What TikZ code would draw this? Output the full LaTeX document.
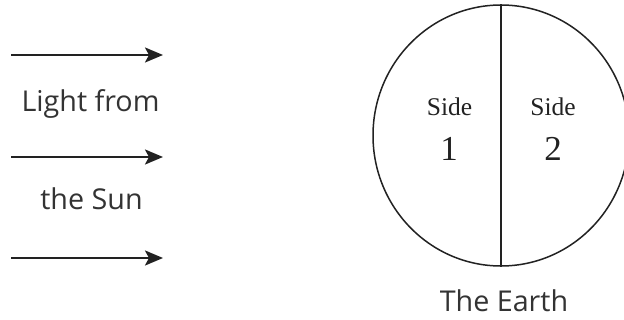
\documentclass[tikz,border=0pt]{standalone}
\usepackage{fontspec}
\setmainfont{Open Sans}
\newfontfamily\serifface{Liberation Serif}
\usetikzlibrary{arrows.meta,shapes.geometric}
\definecolor{ink}{HTML}{222222}
\definecolor{txt}{HTML}{333333}
\tikzset{
  x=1pt,y=1pt,
  sunray/.style={line width=2.5pt,draw=ink,-{Stealth[length=18pt,width=15pt,inset=4pt]}},
  label/.style={text=txt,font=\fontsize{28.7}{32}\selectfont,inner sep=0pt,anchor=base},
  sidelbl/.style={text=ink,font=\serifface\fontsize{25.5}{28}\selectfont,inner sep=0pt,anchor=base},
  sidenum/.style={text=ink,font=\serifface\fontsize{35}{38}\selectfont,inner sep=0pt,anchor=base},
  earthshape/.style={ellipse,draw=ink,line width=1.5pt,minimum width=256pt,minimum height=261pt,inner sep=0pt}
}
\begin{document}
\begin{tikzpicture}
\useasboundingbox (0,0) rectangle (624,-320);
% arrows
\coordinate (a1s) at (11,-55);
\coordinate (a1e) at (163,-55);
\coordinate (a2s) at (11,-157);
\coordinate (a2e) at (163,-157);
\coordinate (a3s) at (11,-258);
\coordinate (a3e) at (163,-258);
\draw[sunray] (a1s) -- (a1e);
\draw[sunray] (a2s) -- (a2e);
\draw[sunray] (a3s) -- (a3e);
\node[label] (l1) at (90.5,-112) {Light from};
\node[label] (l2) at (91.5,-210) {the Sun};
% earth
\node[earthshape] (earth) at (501,-135.5) {};
\draw[ink,line width=1.5pt] (earth.north) -- (earth.south);
\node[sidelbl] (s1) at (449.5,-116) {Side};
\node[sidenum] (n1) at (449,-161) {1};
\node[sidelbl] (s2) at (553,-116) {Side};
\node[sidenum] (n2) at (553,-161) {2};
\node[label] (et) at (504,-312) {The Earth};
\end{tikzpicture}
\end{document}
